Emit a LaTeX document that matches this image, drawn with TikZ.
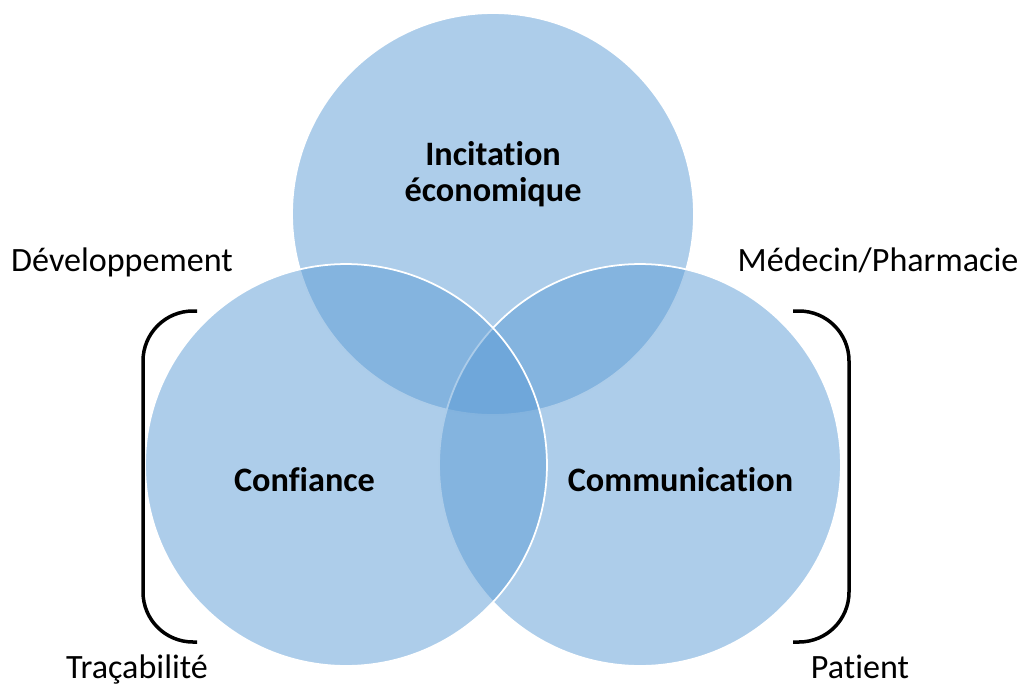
\documentclass[tikz,border=0pt]{standalone}
\usepackage{fontspec}
\setmainfont{Carlito}[Ligatures=NoCommon]
\definecolor{vennblue}{RGB}{91,155,213}
\begin{document}
\begin{tikzpicture}[x=0.02cm,y=-0.02cm,
  venn/.style={circle, minimum size=8.04cm, inner sep=0pt, fill=vennblue, fill opacity=0.5, draw=white, line width=1pt},
  lbl/.style={font=\fontsize{19.4}{23}\selectfont, anchor=base, inner sep=0pt},
  blbl/.style={font=\fontsize{19.5}{20.4}\selectfont\bfseries, anchor=base, inner sep=0pt, align=center},
  bracketline/.style={draw=black, line width=0.07cm, rounded corners=1.0cm}]
\useasboundingbox (0,0) rectangle (1027,693);
\node[venn] (top) at (493,214) {};
\node[venn] (right) at (640,465) {};
\node[venn] (left) at (346,465) {};
\node[blbl] (tlab) at (493,201) {Incitation\\économique};
\node[blbl] (llab) at (304.5,491) {Confiance};
\node[blbl] (rlab) at (680.5,491) {Communication};
\node[lbl] (dev) at (122,271) {Développement};
\node[lbl] (med) at (878,271) {Médecin/Pharmacie};
\node[lbl] (tra) at (137,678) {Traçabilité};
\node[lbl] (pat) at (860,678) {Patient};
\draw[bracketline] (197,311) -| (143,642) -- (197,642);
\draw[bracketline] (793,311) -| (849,642) -- (793,642);
\end{tikzpicture}
\end{document}
